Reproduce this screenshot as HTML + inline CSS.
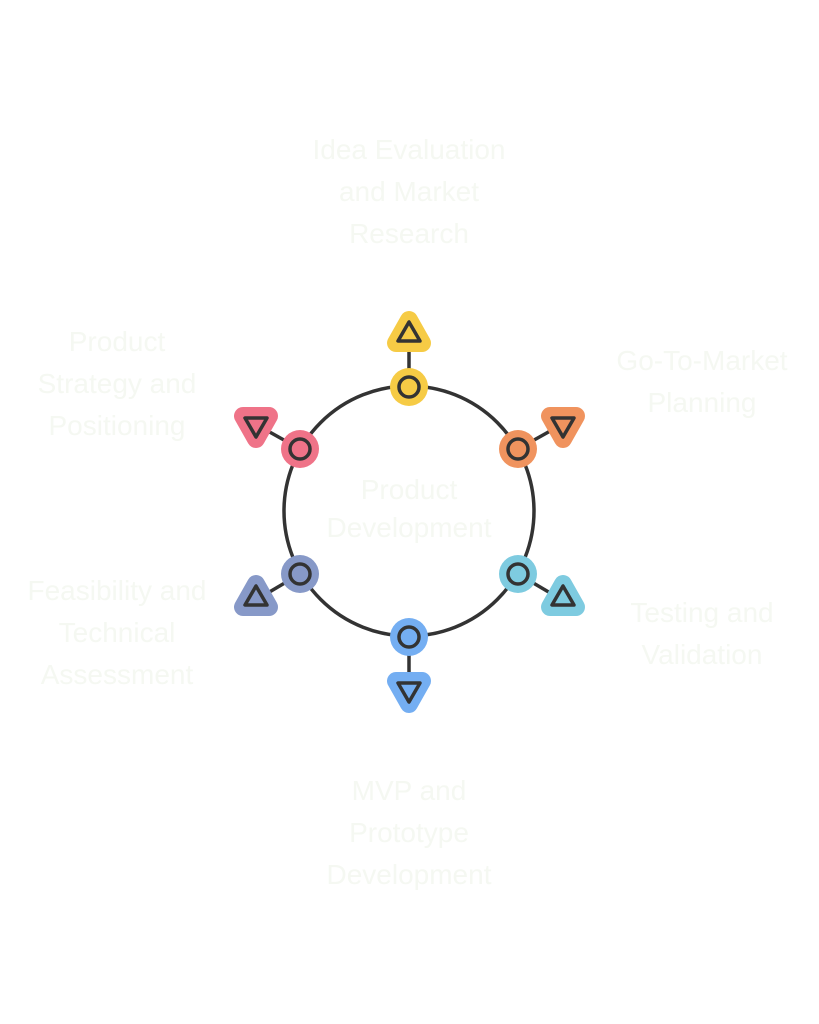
<!DOCTYPE html>
<html><head><meta charset="utf-8"><style>
html,body{margin:0;padding:0;background:#fff;}
svg{display:block}
text{font-family:"Liberation Sans",sans-serif;font-size:28px;fill:#f5f8f2;text-anchor:middle}
</style></head><body>
<svg width="819" height="1024" viewBox="0 0 819 1024">
<circle cx="409" cy="511" r="125" fill="none" stroke="#333" stroke-width="3.5"/>
<g stroke="#333" stroke-width="3.5">
<line x1="409" y1="387" x2="409" y2="346"/>
<line x1="518" y1="449" x2="552" y2="430"/>
<line x1="518" y1="574" x2="552" y2="594"/>
<line x1="409" y1="637" x2="409" y2="678"/>
<line x1="300" y1="574" x2="266" y2="594"/>
<line x1="300" y1="449" x2="266" y2="430"/>
</g>
<g stroke="#333" stroke-width="3.5">
<circle cx="409" cy="387" r="19" fill="#f6cb45" stroke="none"/><circle cx="409" cy="387" r="10" fill="#f6cb45"/>
<circle cx="518" cy="449" r="19" fill="#f0935e" stroke="none"/><circle cx="518" cy="449" r="10" fill="#f0935e"/>
<circle cx="518" cy="574" r="19" fill="#7ecbe0" stroke="none"/><circle cx="518" cy="574" r="10" fill="#7ecbe0"/>
<circle cx="409" cy="637" r="19" fill="#74aef2" stroke="none"/><circle cx="409" cy="637" r="10" fill="#74aef2"/>
<circle cx="300" cy="574" r="19" fill="#8799c8" stroke="none"/><circle cx="300" cy="574" r="10" fill="#8799c8"/>
<circle cx="300" cy="449" r="19" fill="#ef7388" stroke="none"/><circle cx="300" cy="449" r="10" fill="#ef7388"/>
</g>
<g stroke-linejoin="round">
<polygon points="409,320 396,343 422,343" fill="#f6cb45" stroke="#f6cb45" stroke-width="18"/>
<polygon points="409,322 398,341 420,341" fill="none" stroke="#333" stroke-width="3.5"/>
<polygon points="550,416 576,416 563,439" fill="#f0935e" stroke="#f0935e" stroke-width="18"/>
<polygon points="552,418 574,418 563,437" fill="none" stroke="#333" stroke-width="3.5"/>
<polygon points="563,584 550,607 576,607" fill="#7ecbe0" stroke="#7ecbe0" stroke-width="18"/>
<polygon points="563,586 552,605 574,605" fill="none" stroke="#333" stroke-width="3.5"/>
<polygon points="396,681 422,681 409,704" fill="#74aef2" stroke="#74aef2" stroke-width="18"/>
<polygon points="398,683 420,683 409,702" fill="none" stroke="#333" stroke-width="3.5"/>
<polygon points="256,584 243,607 269,607" fill="#8799c8" stroke="#8799c8" stroke-width="18"/>
<polygon points="256,586 245,605 267,605" fill="none" stroke="#333" stroke-width="3.5"/>
<polygon points="243,416 269,416 256,439" fill="#ef7388" stroke="#ef7388" stroke-width="18"/>
<polygon points="245,418 267,418 256,437" fill="none" stroke="#333" stroke-width="3.5"/>
</g>
<text x="409" y="159">Idea Evaluation</text>
<text x="409" y="201">and Market</text>
<text x="409" y="243">Research</text>
<text x="117" y="351">Product</text>
<text x="117" y="393">Strategy and</text>
<text x="117" y="435">Positioning</text>
<text x="702" y="370">Go-To-Market</text>
<text x="702" y="412">Planning</text>
<text x="409" y="499">Product</text>
<text x="409" y="537">Development</text>
<text x="117" y="600">Feasibility and</text>
<text x="117" y="642">Technical</text>
<text x="117" y="684">Assessment</text>
<text x="702" y="622">Testing and</text>
<text x="702" y="664">Validation</text>
<text x="409" y="800">MVP and</text>
<text x="409" y="842">Prototype</text>
<text x="409" y="884">Development</text>
</svg>
</body></html>
